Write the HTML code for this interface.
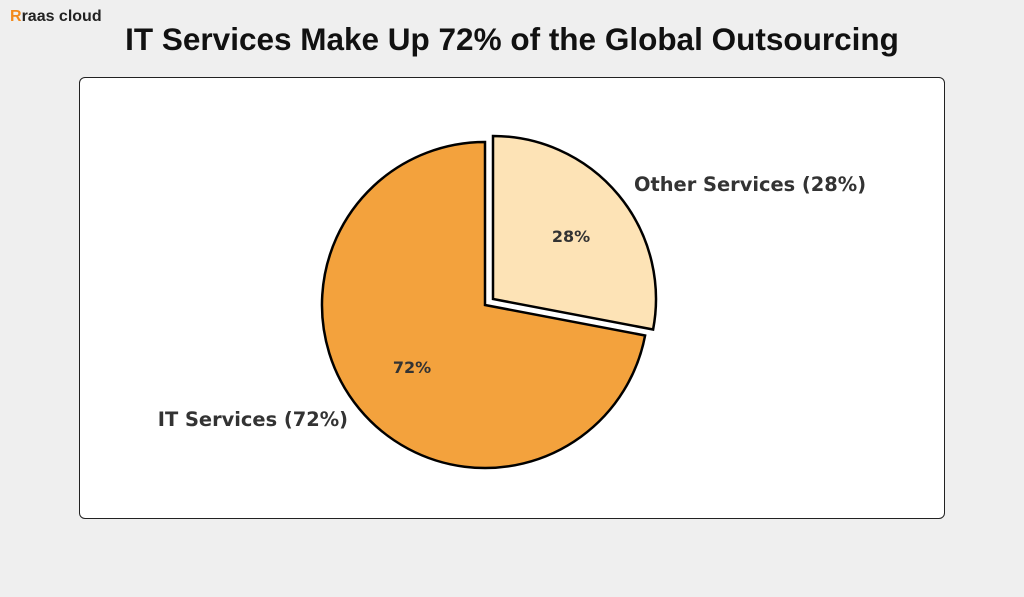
<!DOCTYPE html>
<html><head><meta charset="utf-8"><style>
body{margin:0;width:1024px;height:597px;background:#efefef;font-family:"Liberation Sans","DejaVu Sans",sans-serif;position:relative;overflow:hidden}
.logo{position:absolute;left:10px;top:8px;font-size:16px;font-weight:bold;color:#222}
.logo b{color:#f28a1c}
h1{position:absolute;left:0;width:1024px;top:21px;margin:0;text-align:center;font-size:31.5px;font-weight:bold;color:#111}
.card{position:absolute;left:79px;top:77px;width:864px;height:440px;background:#fff;border:1.5px solid #222;border-radius:6px}
</style></head><body>
<div class="logo"><b>R</b>raas cloud</div>
<h1>IT Services Make Up 72% of the Global Outsourcing</h1>
<div class="card"></div>
<svg width="1024" height="597" style="position:absolute;left:0;top:0">
<path d="M485,305 L645.1,335.5 A163,163 0 1 1 485,142 Z" fill="#f3a23d" stroke="#000" stroke-width="2.5" stroke-linejoin="miter"/>
<path d="M493,299 L493,136 A163,163 0 0 1 653.1,329.5 Z" fill="#fde3b6" stroke="#000" stroke-width="2.5"/>
<g font-family="DejaVu Sans,sans-serif" font-weight="bold" fill="#333">
<text x="571" y="242" font-size="16" text-anchor="middle">28%</text>
<text x="412" y="373" font-size="16" text-anchor="middle">72%</text>
<text x="634" y="191" font-size="19.4">Other Services (28%)</text>
<text x="348" y="426" font-size="19.4" text-anchor="end">IT Services (72%)</text>
</g>
</svg>
</body></html>
